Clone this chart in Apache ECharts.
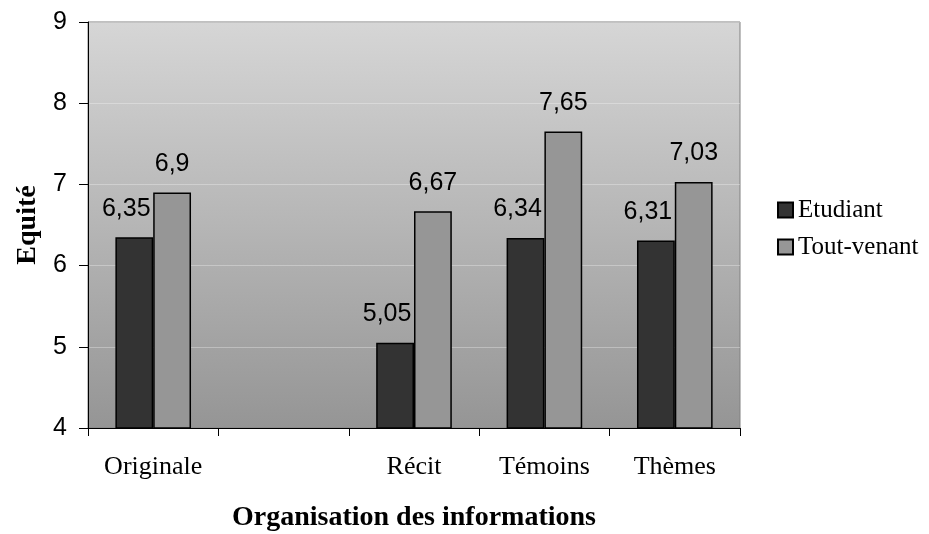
<!DOCTYPE html>
<html>
<head>
<meta charset="utf-8">
<script src="https://cdn.jsdelivr.net/npm/echarts@6/dist/echarts.min.js"></script>
<style>
  html, body { margin: 0; padding: 0; background: #fff; }
  #chart { width: 929px; height: 534px; }
</style>
</head>
<body>
<div id="chart"></div>
<script>
// categories, the second slot is empty in the original
const categories = ['Originale', '', 'Récit', 'Témoins', 'Thèmes'];
const etudiant = [6.35, null, 5.05, 6.34, 6.31];
const toutVenant = [6.9, null, 6.67, 7.65, 7.03];

const serif = '"Liberation Serif", "DejaVu Serif", serif';
const sans = '"Liberation Sans", Arial, sans-serif';

const fmt = p => String(p.value).replace('.', ',');

const chart = echarts.init(document.getElementById('chart'));
chart.setOption({
  animation: false,
  grid: {
    left: 88, top: 22, right: 189, bottom: 106,
    outerBoundsMode: 'none',
    show: true,
    borderColor: '#808080',
    borderWidth: 1,
    backgroundColor: new echarts.graphic.LinearGradient(0, 0, 0, 1, [
      { offset: 0, color: '#d6d6d6' },
      { offset: 1, color: '#959595' }
    ])
  },
  legend: {
    orient: 'vertical',
    left: 772, top: 192,
    itemWidth: 15, itemHeight: 15, itemGap: 11,
    icon: 'rect',
    textStyle: { fontFamily: serif, fontSize: 25, color: '#000', lineHeight: 26 },
    data: ['Etudiant', 'Tout-venant']
  },
  xAxis: {
    type: 'category',
    data: categories,
    boundaryGap: true,
    axisLine: { lineStyle: { color: '#000', width: 1 } },
    axisTick: { show: true, length: 8, lineStyle: { color: '#000' } },
    axisLabel: { fontFamily: serif, fontSize: 26, color: '#000', margin: 26 },
    name: 'Organisation des informations',
    nameLocation: 'middle',
    nameGap: 76,
    nameTextStyle: { fontFamily: serif, fontSize: 28, fontWeight: 'bold', color: '#000' }
  },
  yAxis: {
    type: 'value',
    min: 4, max: 9, interval: 1,
    axisLine: { show: true, lineStyle: { color: '#000', width: 1 } },
    axisTick: { show: true, length: 9, lineStyle: { color: '#000' } },
    axisLabel: { fontFamily: sans, fontSize: 25, color: '#000', margin: 21 },
    splitLine: { show: true, lineStyle: { color: 'rgba(255,255,255,0.3)', width: 1 } },
    name: 'Equité',
    nameLocation: 'middle',
    nameGap: 45,
    nameRotate: 90,
    nameTextStyle: { fontFamily: serif, fontSize: 28, fontWeight: 'bold', color: '#000' }
  },
  series: [
    {
      name: 'Etudiant',
      type: 'bar',
      data: etudiant,
      barGap: '0%',
      barCategoryGap: '42%',
      itemStyle: { color: '#333333', borderColor: '#000', borderWidth: 1.5 },
      label: {
        show: true, position: 'top', distance: 16, offset: [-8, 0],
        formatter: fmt,
        fontFamily: sans, fontSize: 25, color: '#000'
      }
    },
    {
      name: 'Tout-venant',
      type: 'bar',
      data: toutVenant,
      itemStyle: { color: '#969696', borderColor: '#000', borderWidth: 1.5 },
      label: {
        show: true, position: 'top', distance: 16,
        formatter: fmt,
        fontFamily: sans, fontSize: 25, color: '#000'
      }
    }
  ]
});
</script>
</body>
</html>
